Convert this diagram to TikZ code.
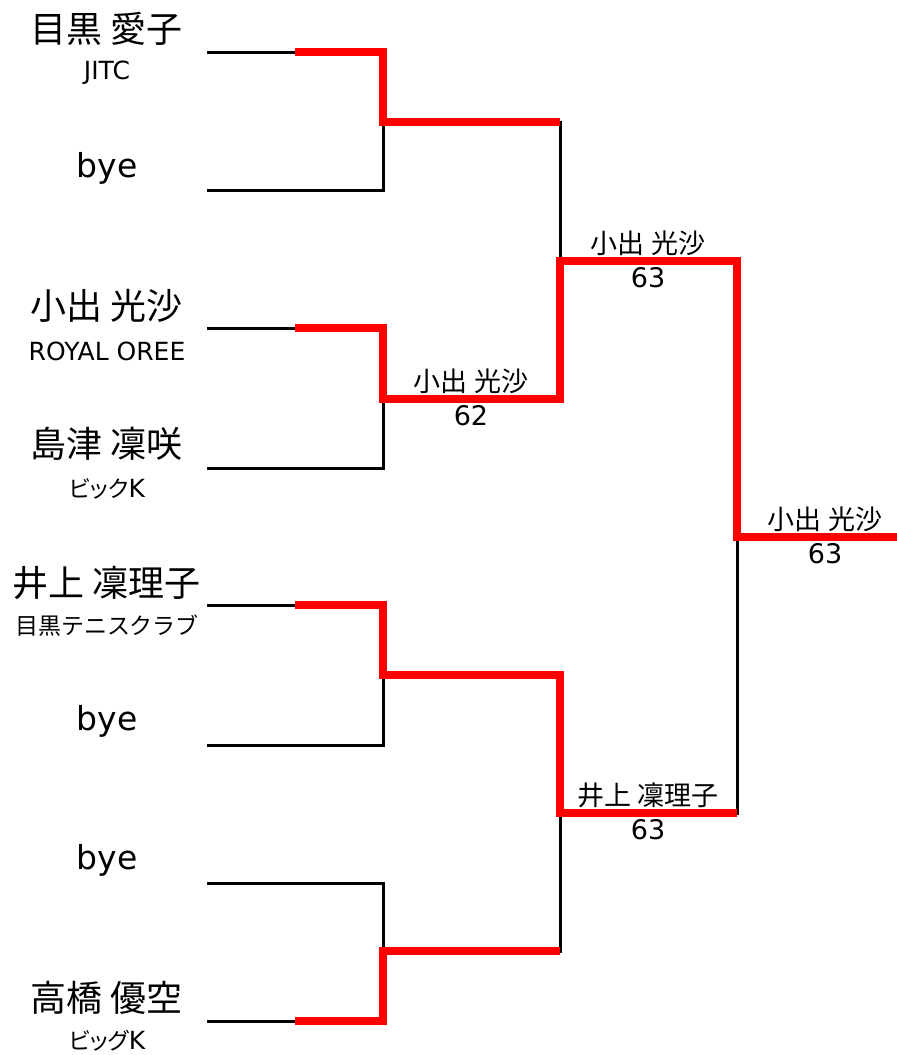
\documentclass[tikz,border=0pt]{standalone}
\usepackage{fontspec}
\setmainfont{DejaVu Sans}
\newfontfamily\jp{Noto Sans CJK JP}
\newfontfamily\jpp[RawFeature=+palt]{Noto Sans CJK JP}

\begin{document}
\begin{tikzpicture}[x=1pt, y=-1pt,
        lose/.style={black, line width=3pt},
        win/.style={red, line width=7.5pt, line join=miter},
        nm/.style={font=\jp\fontsize{36}{42}\selectfont},
        byen/.style={font=\fontsize{33}{40}\selectfont},
        club/.style={font=\fontsize{25}{30}\selectfont},
        kana/.style={font=\jp\fontsize{23}{28}\selectfont},
        res/.style={font=\fontsize{27}{32}\selectfont}]
        \useasboundingbox (0, 0) rectangle (897, 1055);

        % slot lines
        \coordinate (A1) at (207, 52);
        \coordinate (A2) at (207, 190);
        \coordinate (A3) at (207, 328);
        \coordinate (A4) at (207, 468);
        \coordinate (A5) at (207, 605);
        \coordinate (A6) at (207, 745);
        \coordinate (A7) at (207, 883);
        \coordinate (A8) at (207, 1021);
        \coordinate (B1) at (383, 52);
        \coordinate (B2) at (383, 190);
        \coordinate (B3) at (383, 328);
        \coordinate (B4) at (383, 468);
        \coordinate (B5) at (383, 605);
        \coordinate (B6) at (383, 745);
        \coordinate (B7) at (383, 883);
        \coordinate (B8) at (383, 1021);
        \coordinate (P1) at (295, 52);
        \coordinate (P2) at (295, 328);
        \coordinate (P3) at (295, 605);
        \coordinate (P4) at (295, 1021);

        % later rounds
        \coordinate (C1) at (383, 122);
        \coordinate (C2) at (383, 399);
        \coordinate (C3) at (383, 675);
        \coordinate (C4) at (383, 951);
        \coordinate (D1) at (560, 122);
        \coordinate (D2) at (560, 399);
        \coordinate (D3) at (560, 675);
        \coordinate (D4) at (560, 951);
        \coordinate (E1) at (560, 261);
        \coordinate (E2) at (560, 813);
        \coordinate (F1) at (737, 261);
        \coordinate (F2) at (737, 813);
        \coordinate (G) at (737, 537);
        \coordinate (H) at (897, 537);

        \draw[lose] (A1) -- (B1) -- (B2) -- (A2);
        \draw[lose] (A3) -- (B3) -- (B4) -- (A4);
        \draw[lose] (A5) -- (B5) -- (B6) -- (A6);
        \draw[lose] (A7) -- (B7) -- (B8) -- (A8);
        \draw[lose] (C1) -- (D1) -- (D2) -- (C2);
        \draw[lose] (C3) -- (D3) -- (D4) -- (C4);
        \draw[lose] (E1) -- (F1) -- (F2) -- (E2);
        \draw[lose] (G) -- (H);

        \draw[win] (P1) -- (B1) -- (C1) -- (D1);
        \draw[win] (P2) -- (B3) -- (C2) -- (D2) -- (E1) -- (F1) -- (G) -- (H);
        \draw[win] (P3) -- (B5) -- (C3) -- (D3) -- (E2) -- (F2);
        \draw[win] (P4) -- (B8) -- (C4) -- (D4);

        % players
        \node[nm] (n1) at (107, 29) {目黒 愛子};
        \node[club] (c1) at (107, 73) {JITC};
        \node[byen] (n2) at (107, 168) {bye};
        \node[nm] (n3) at (107, 306) {小出 光沙};
        \node[club] (c3) at (107, 351) {ROYAL OREE};
        \node[nm] (n4) at (107, 444) {島津 凜咲};
        \node[club] (c4) at (107, 489) {{\jpp\fontsize{23}{28}\selectfont ビック}K};
        \node[nm] (n5) at (107, 583) {井上 凜理子};
        \node[kana] (c5) at (107, 626) {目黒テニスクラブ};
        \node[byen] (n6) at (107, 721) {bye};
        \node[byen] (n7) at (107, 860) {bye};
        \node[nm] (n8) at (107, 998) {高橋 優空};
        \node[club] (c8) at (107, 1041) {{\jpp\fontsize{23}{28}\selectfont ビッグ}K};

        % results
        \node[res] (w2) at (471, 381) {\jp 小出 光沙};
        \node[res] (s2) at (471, 416) {62};
        \node[res] (w5) at (648, 243) {\jp 小出 光沙};
        \node[res] (s5) at (648, 278) {63};
        \node[res] (w6) at (648, 795) {\jp 井上 凜理子};
        \node[res] (s6) at (648, 830) {63};
        \node[res] (w7) at (825, 519) {\jp 小出 光沙};
        \node[res] (s7) at (825, 554) {63};
    \end{tikzpicture}
\end{document}
